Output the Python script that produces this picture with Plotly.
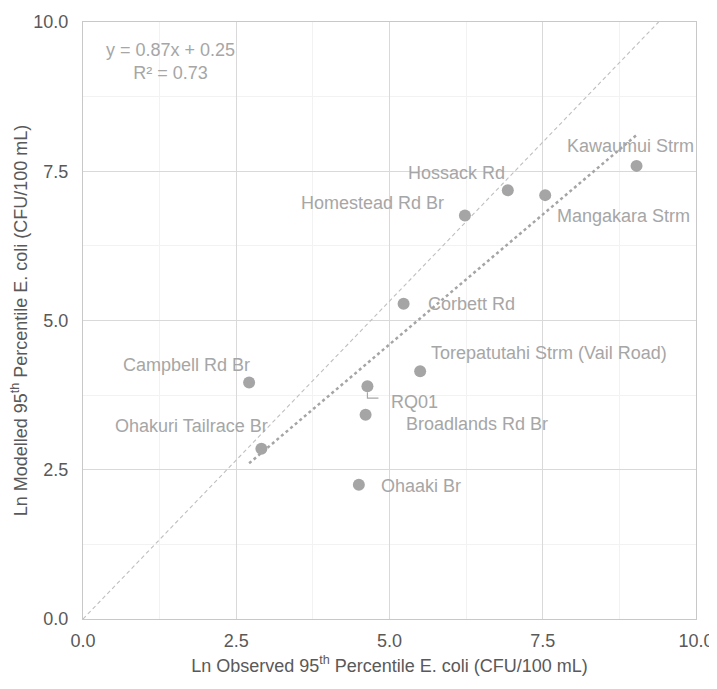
import plotly.graph_objects as go

# ---------------- data ----------------
sites = ["Kawaumui Strm", "Hossack Rd", "Mangakara Strm", "Homestead Rd Br", "Corbett Rd",
         "Campbell Rd Br", "Torepatutahi Strm (Vail Road)", "RQ01", "Broadlands Rd Br",
         "Ohakuri Tailrace Br", "Ohaaki Br"]
observed = [9.03, 6.93, 7.54, 6.23, 5.23, 2.71, 5.50, 4.64, 4.61, 2.91, 4.50]
modelled = [7.59, 7.18, 7.10, 6.76, 5.28, 3.96, 4.15, 3.90, 3.42, 2.85, 2.25]

trend_slope = 0.87
trend_intercept = 0.25
trend_r2 = 0.73

ref_line_x = [0.0, 9.39]
ref_line_y = [0.0, 10.0]

tick_vals = [0.0, 2.5, 5.0, 7.5, 10.0]

# ---------------- label placement (style) ----------------
label_style = {
    "Kawaumui Strm": ("center", -6, 20),
    "Hossack Rd": ("right", -1, 17),
    "Mangakara Strm": ("left", 10, -21),
    "Homestead Rd Br": ("right", -19, 12),
    "Corbett Rd": ("left", 22, 0),
    "Campbell Rd Br": ("right", 3, 18),
    "Torepatutahi Strm (Vail Road)": ("left", 9, 18),
    "RQ01": ("left", 22, -16),
    "Broadlands Rd Br": ("left", 38, -9),
    "Ohakuri Tailrace Br": ("right", 9, 23),
    "Ohaaki Br": ("left", 20, -1),
}

FONT = "Liberation Sans, Arial, sans-serif"
LABEL_C = "#A6A6A6"
AXIS_C = "#595959"

fig = go.Figure()

# reference line (dashed)
fig.add_trace(go.Scatter(x=ref_line_x, y=ref_line_y, mode="lines",
                         line=dict(color="#BFBFBF", width=1.1, dash="4px,3px"),
                         hoverinfo="skip", showlegend=False))

# linear trendline (dotted)
tx = [min(observed), max(observed)]
ty = [trend_slope * v + trend_intercept for v in tx]
fig.add_trace(go.Scatter(x=tx, y=ty, mode="lines",
                         line=dict(color="#A5A5A5", width=2.5, dash="dot"),
                         hoverinfo="skip", showlegend=False))

# points
fig.add_trace(go.Scatter(x=observed, y=modelled, mode="markers",
                         marker=dict(color="#A5A5A5", size=12, line=dict(width=0)),
                         text=sites, showlegend=False))

annotations = []
for s, xv, yv in zip(sites, observed, modelled):
    anchor, dx, dy = label_style[s]
    annotations.append(dict(x=xv, y=yv, xref="x", yref="y", text=s, showarrow=False,
                            xanchor=anchor, yanchor="middle", xshift=dx, yshift=dy,
                            font=dict(family=FONT, size=18, color=LABEL_C)))

annotations.append(dict(x=0.1424, y=0.934, xref="paper", yref="paper",
                        text=f"y = {trend_slope:.2f}x + {trend_intercept:.2f}<br>R² = {trend_r2:.2f}",
                        showarrow=False, align="center", xanchor="center", yanchor="middle",
                        font=dict(family=FONT, size=18, color=LABEL_C)))

# RQ01 leader line
rq = sites.index("RQ01")
fig.add_shape(type="path", xref="x", yref="y",
              xsizemode="pixel", ysizemode="pixel",
              xanchor=observed[rq], yanchor=modelled[rq],
              path="M 0,-6 L 0,-12 L 11,-12",
              line=dict(color="#A6A6A6", width=1.2))

axis_common = dict(
    range=[0, 10], tickvals=tick_vals, tickformat=".1f",
    showgrid=True, gridcolor="#D9D9D9", gridwidth=1,
    minor=dict(dtick=1.25, showgrid=True, gridcolor="#F2F2F2", gridwidth=1),
    zeroline=False, showline=True, linecolor="#C8C8C8", linewidth=1.2, mirror=True,
    ticks="", tickfont=dict(family=FONT, size=18, color=AXIS_C), automargin=False,
)

fig.update_layout(
    width=717, height=689,
    margin=dict(l=75, r=29, t=14, b=78),
    paper_bgcolor="white", plot_bgcolor="white",
    font=dict(family=FONT, size=18, color=AXIS_C),
    xaxis=dict(**axis_common, ticklabelstandoff=5,
               title=dict(text="Ln Observed 95<sup>th</sup> Percentile E. coli (CFU/100 mL)",
                          font=dict(family=FONT, size=18, color=AXIS_C), standoff=9)),
    yaxis=dict(**axis_common, ticklabelstandoff=10,
               title=dict(text="Ln Modelled 95<sup>th</sup> Percentile E. coli (CFU/100 mL)",
                          font=dict(family=FONT, size=18, color=AXIS_C), standoff=4)),
    annotations=annotations,
    showlegend=False,
)

fig.write_html("out.html")
